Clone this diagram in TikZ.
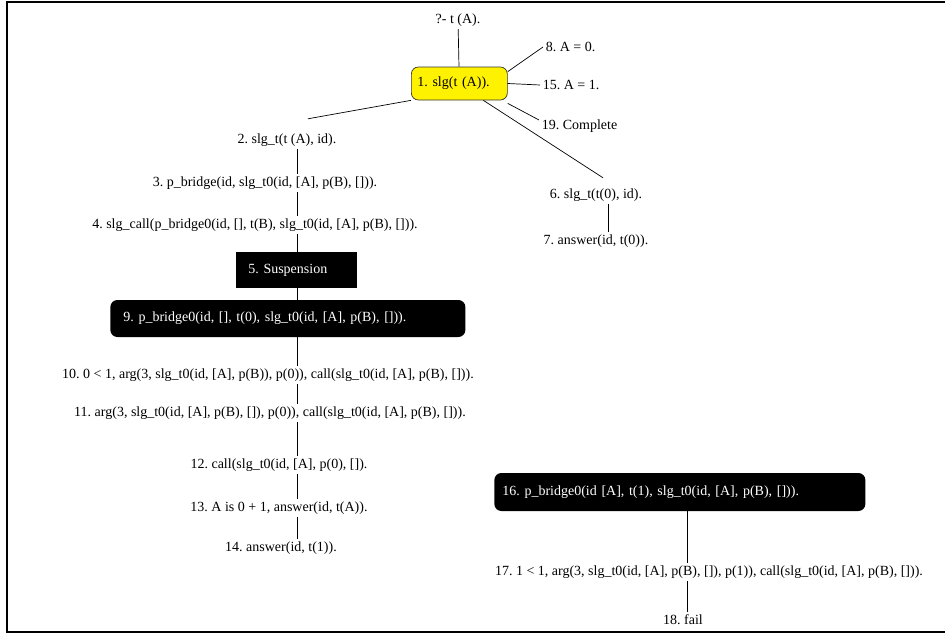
\documentclass[tikz,border=0pt]{standalone}
\usepackage{fontspec}
\setmainfont{Liberation Serif}
\frenchspacing

\begin{document}
\begin{tikzpicture}[x=1pt, y=-1pt, line width=0.7pt,
    goal/.style={font=\fontsize{14}{16}\selectfont, inner sep=2.5pt},
    darkbox/.style={goal, fill=black, text=white, anchor=west, align=left},
    rootbox/.style={goal, fill=yellow, draw=black!80, rounded corners=7pt,
        anchor=west, align=left, text width=84pt, inner xsep=6pt, minimum height=33pt}]

    % 1. Frame and page size
    \useasboundingbox (0,0) rectangle (945,635);
    \draw[line width=2pt] (945,2) -- (7,2) -- (7,632) -- (945,632);

    % 2. Spines of the two vertical chains
    \coordinate (lspine) at (297,0);
    \coordinate (mspine) at (608,0);
    \coordinate (rspine) at (687,0);

    % 3. Query and root goal
    \node[goal] (q) at (458,20) {?- t (A).};
    \node[rootbox] (n1) at (411,83.5) {1. slg(t (A)).};

    % 4. Answers and completion
    \node[goal, anchor=west] (n8) at (543,47) {8. A = 0.};
    \node[goal, anchor=west] (n15) at (540,85) {15. A = 1.};
    \node[goal, anchor=west] (n19) at (539,126) {19. Complete};

    % 5. Left chain
    \node[goal] (n2) at (287,140) {2. slg\_t(t (A), id).};
    \node[goal] (n3) at (265,183) {3. p\_bridge(id, slg\_t0(id, [A], p(B), [])).};
    \node[goal] (n4) at (255,225) {4. slg\_call(p\_bridge0(id, [], t(B), slg\_t0(id, [A], p(B), [])).};
    \node[darkbox, text width=97pt, inner xsep=12pt, minimum height=36pt]
        (n5) at (236,270) {5. Suspension};
    \node[darkbox, rounded corners=7pt, text width=329pt, inner xsep=13pt, minimum height=37pt]
        (n9) at (110,318.5) {9. p\_bridge0(id, [], t(0), slg\_t0(id, [A], p(B), [])).};
    \node[goal] (n10) at (268,375) {10. 0 < 1, arg(3, slg\_t0(id, [A], p(B)), p(0)), call(slg\_t0(id, [A], p(B), [])).};
    \node[goal] (n11) at (270,413) {11. arg(3, slg\_t0(id, [A], p(B), []), p(0)), call(slg\_t0(id, [A], p(B), [])).};
    \node[goal] (n12) at (279,465) {12. call(slg\_t0(id, [A], p(0), []).};
    \node[goal] (n13) at (279,508) {13. A is 0 + 1, answer(id, t(A)).};
    \node[goal] (n14) at (281,548) {14. answer(id, t(1)).};

    % 6. Middle chain
    \node[goal] (n6) at (596,195) {6. slg\_t(t(0), id).};
    \node[goal] (n7) at (596,241) {7. answer(id, t(0)).};

    % 7. Right chain
    \node[darkbox, rounded corners=7pt, text width=355pt, inner xsep=8pt, minimum height=38pt]
        (n16) at (494,492) {16. p\_bridge0(id [A], t(1), slg\_t0(id, [A], p(B), [])).};
    \node[goal] (n17) at (709,572) {17. 1 < 1, arg(3, slg\_t0(id, [A], p(B), []), p(1)), call(slg\_t0(id, [A], p(B), [])).};
    \node[goal] (n18) at (683,620) {18. fail};

    % 8. Edges from the root
    \draw (q) -- (n1);
    \draw ([yshift=-5pt]n1.north east) -- (n8.west);
    \draw (n1.east) -- (n15.west);
    \draw ([yshift=-3pt]n1.south east) -- ([yshift=6pt]n19.west);
    \draw (n1.south west) -- ([xshift=21pt,yshift=12pt]n2.north);
    \draw ([xshift=24pt]n1.south) -- ([xshift=7pt,yshift=8pt]n6.north);

    % 9. Vertical links
    \foreach \a/\b in {n2/n3, n3/n4, n4/n5, n5/n9, n9/n10, n10/n11, n11/n12, n12/n13, n13/n14}
        \draw (\a.south -| lspine) -- (\b.north -| lspine);
    \draw (n6.south -| mspine) -- (n7.north -| mspine);
    \draw (n16.south -| rspine) -- (n17.north -| rspine);
    \draw (n17.south -| rspine) -- (n18.north -| rspine);

\end{tikzpicture}
\end{document}
